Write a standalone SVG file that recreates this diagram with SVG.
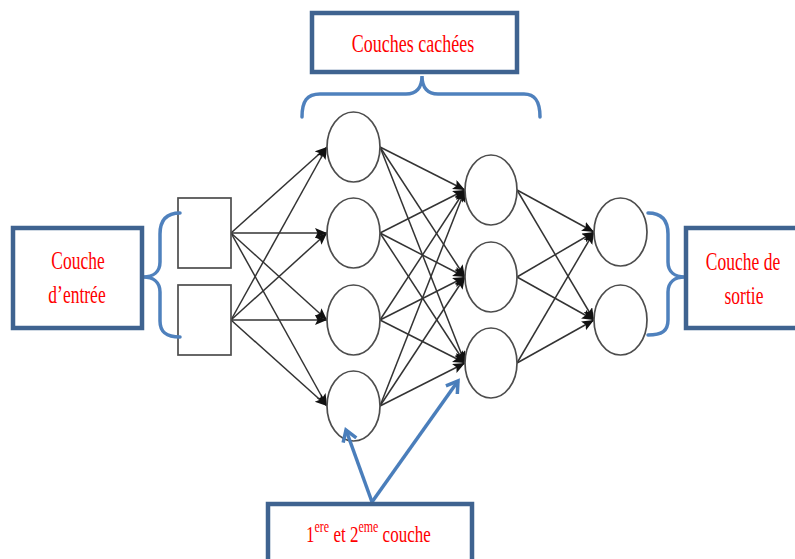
<svg xmlns="http://www.w3.org/2000/svg" width="795" height="559" viewBox="0 0 795 559">
<defs>
<marker id="ah" markerUnits="userSpaceOnUse" markerWidth="14" markerHeight="11" refX="12" refY="5" orient="auto">
<path d="M0,0 L12,5 L0,10 L2.5,5 z" fill="#111"/>
</marker>
<marker id="bh" markerUnits="userSpaceOnUse" markerWidth="20" markerHeight="20" refX="14" refY="10" orient="auto">
<path d="M3,3 L14,10 L3,17" fill="none" stroke="#4A7EBB" stroke-width="3.5" stroke-linejoin="miter"/>
</marker>
<style>
.n{fill:#fff;stroke:#4d4d4d;stroke-width:1.7}
.c line{stroke:#333;stroke-width:1.5;marker-end:url(#ah)}
.lb{fill:#fff;stroke:#3F6390;stroke-width:4.5}
.br{fill:none;stroke:#4F81BD;stroke-width:3.5;stroke-linecap:round}
.t{font-family:"Liberation Serif","Times New Roman",serif;font-size:17.5px;fill:#FF0000;text-anchor:middle}
.ba{stroke:#4A7EBB;stroke-width:3.5;marker-end:url(#bh)}
</style>
</defs>
<rect width="795" height="559" fill="#fff"/>

<g id="connectors" class="c">
<line x1="231" y1="233" x2="327" y2="147"/>
<line x1="231" y1="233" x2="327" y2="233"/>
<line x1="231" y1="233" x2="327" y2="320"/>
<line x1="231" y1="233" x2="327" y2="406"/>
<line x1="231" y1="320" x2="327" y2="147"/>
<line x1="231" y1="320" x2="327" y2="233"/>
<line x1="231" y1="320" x2="327" y2="320"/>
<line x1="231" y1="320" x2="327" y2="406"/>
<line x1="380" y1="147" x2="465" y2="190"/>
<line x1="380" y1="147" x2="465" y2="277"/>
<line x1="380" y1="147" x2="465" y2="363"/>
<line x1="380" y1="233" x2="465" y2="190"/>
<line x1="380" y1="233" x2="465" y2="277"/>
<line x1="380" y1="233" x2="465" y2="363"/>
<line x1="380" y1="320" x2="465" y2="190"/>
<line x1="380" y1="320" x2="465" y2="277"/>
<line x1="380" y1="320" x2="465" y2="363"/>
<line x1="380" y1="406" x2="465" y2="190"/>
<line x1="380" y1="406" x2="465" y2="277"/>
<line x1="380" y1="406" x2="465" y2="363"/>
<line x1="517" y1="190" x2="594" y2="232"/>
<line x1="517" y1="190" x2="594" y2="320"/>
<line x1="517" y1="277" x2="594" y2="232"/>
<line x1="517" y1="277" x2="594" y2="320"/>
<line x1="517" y1="363" x2="594" y2="232"/>
<line x1="517" y1="363" x2="594" y2="320"/>
</g>

<g id="in1"><rect class="n" x="178" y="198" width="53" height="70"/></g>
<g id="in2"><rect class="n" x="178" y="285" width="53" height="70"/></g>

<g id="h1a"><ellipse class="n" cx="353.5" cy="147" rx="26.5" ry="35"/></g>
<g id="h1b"><ellipse class="n" cx="353.5" cy="233" rx="26.5" ry="35"/></g>
<g id="h1c"><ellipse class="n" cx="353.5" cy="320" rx="26.5" ry="35"/></g>
<g id="h1d"><ellipse class="n" cx="353.5" cy="406" rx="26.5" ry="35"/></g>

<g id="h2a"><ellipse class="n" cx="491" cy="190" rx="26" ry="35"/></g>
<g id="h2b"><ellipse class="n" cx="491" cy="277" rx="26" ry="35"/></g>
<g id="h2c"><ellipse class="n" cx="491" cy="363" rx="26" ry="35"/></g>

<g id="o1"><ellipse class="n" cx="620.5" cy="232" rx="26.5" ry="34"/></g>
<g id="o2"><ellipse class="n" cx="620.5" cy="320" rx="26.5" ry="35"/></g>

<g id="braces">
<path class="br" d="M180,213 C166,213 160,221 160,234 L160,262 C160,272 153,277 143,277 C153,277 160,282 160,292 L160,321 C160,332 166,337 180,337"/>
<path class="br" d="M302,117 C302,101 307,94 320,94 L406,94 C416,94 422,88 422,76 C422,88 428,94 438,94 L524,94 C535,94 540,101 540,117"/>
<path class="br" d="M648,213 C662,213 668,221 668,234 L668,262 C668,272 675,277 685,277 C675,277 668,282 668,292 L668,320 C668,331 662,335 648,335"/>
</g>

<g id="label-entree">
<rect class="lb" x="13" y="228" width="129" height="100"/>
<text class="t" transform="translate(78,269) scale(1,1.45)">Couche</text>
<text class="t" transform="translate(77,303) scale(1,1.45)">d’entrée</text>
</g>

<g id="label-cachees">
<rect class="lb" x="312" y="13" width="205" height="59"/>
<text class="t" style="font-size:18px" transform="translate(413,52) scale(1,1.45)">Couches cachées</text>
</g>

<g id="label-sortie">
<rect class="lb" x="686" y="228" width="130" height="100"/>
<text class="t" transform="translate(743,270) scale(1,1.45)">Couche de</text>
<text class="t" transform="translate(744,304) scale(1,1.45)">sortie</text>
</g>

<g id="blue-arrows">
<line class="ba" x1="372" y1="502" x2="346" y2="430"/>
<line class="ba" x1="372" y1="502" x2="458" y2="381"/>
</g>

<g id="label-couche">
<rect class="lb" x="268" y="504" width="204" height="70"/>
<text class="t" style="text-anchor:start;font-size:17px" transform="translate(306,542) scale(1,1.4)">1<tspan dy="-7" style="font-size:12px">ere</tspan><tspan dy="7"> et 2</tspan><tspan dy="-7" style="font-size:12px">eme</tspan><tspan dy="7"> couche</tspan></text>
</g>
</svg>
